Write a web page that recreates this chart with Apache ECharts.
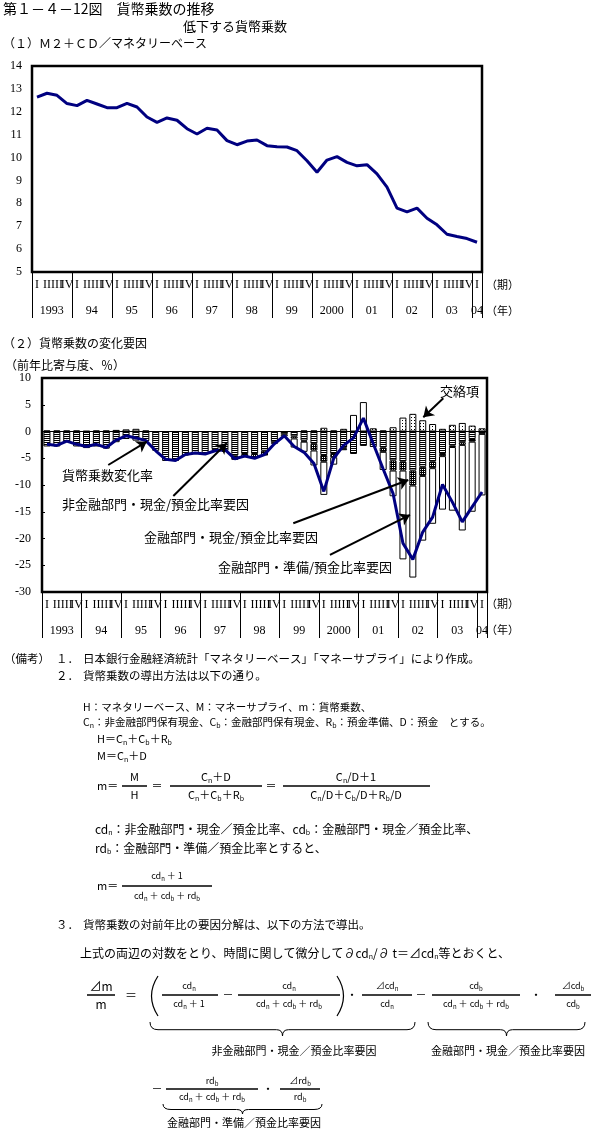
<!DOCTYPE html>
<html><head><meta charset="utf-8">
<script src="https://cdn.jsdelivr.net/npm/echarts@6/dist/echarts.min.js"></script>
<style>html,body{margin:0;padding:0;background:#fff}#c{width:603px;height:1141px}</style>
</head><body><div id="c"></div>
<script>
// ---------- data ----------
const years = ['1993','94','95','96','97','98','99','2000','01','02','03','04'];
const quarterNames = ['I','II','III','IV'];
// (1) M2+CD / monetary base
const m2cdMultiplier = [12.64,12.81,12.72,12.36,12.27,12.50,12.34,12.18,12.18,12.37,
  12.21,11.77,11.54,11.73,11.63,11.26,11.03,11.28,11.20,10.74,
  10.56,10.72,10.77,10.52,10.47,10.46,10.30,9.86,9.36,9.89,
  10.04,9.79,9.64,9.69,9.29,8.71,7.79,7.63,7.79,7.35,
  7.06,6.65,6.55,6.46,6.30];
// (2) factors (y/y contribution, %)
const multiplierChange = [-2.4,-2.6,-1.8,-2.4,-2.8,-2.4,-3.0,-1.6,-0.8,-1.2,
  -1.7,-3.6,-5.2,-5.4,-4.3,-4.0,-4.2,-3.6,-3.4,-5.1,
  -4.6,-5.0,-4.3,-2.3,-0.8,-2.8,-3.9,-6.0,-11.2,-5.0,
  -2.6,-1.2,2.5,-2.3,-7.0,-11.6,-20.9,-23.9,-18.8,-16.0,
  -9.9,-13.2,-16.9,-14.1,-11.3];
const nonFinCashFactor = [-2.8,-2.8,-2.0,-2.8,-3.1,-2.8,-3.2,-2.0,-1.4,-1.7,
  -1.8,-3.6,-5.5,-5.5,-4.5,-4.1,-4.2,-3.3,-3.6,-4.5,
  -4.2,-4.2,-3.6,-2.0,-0.5,-0.9,-1.7,-2.3,-4.4,-4.2,
  -3.0,-4.2,-2.7,-2.9,-3.0,-5.4,-5.6,-7.3,-6.6,-5.6,
  -4.2,-2.6,-2.0,-1.4,-0.45];
const finCashFactor = [0,0,0,0,0,0,0,0,0,0,
  0,0,0,0,0,0,0,-0.3,-0.2,-0.8,
  -0.5,-0.75,-0.9,-0.3,0,-0.4,-0.2,-1.25,-1.25,-0.6,
  -0.2,0,0,0,-0.8,-1.9,-1.7,-2.8,-1.7,-1.25,
  -0.4,-0.3,-0.5,-0.5,0];
const finReserveFactor = [0.2,0.2,0.2,0.2,0.1,0.2,0.2,0.3,0.4,0.5,
  0.2,0,0,0,0,0,0,0,0,0,
  0,0,0,0,-0.4,-1.7,-1.9,-2.8,-6.2,-1.4,
  -0.3,3.1,5.5,0,-3.4,-4.8,-16.6,-17.2,-12.1,-10.4,
  -10.0,-11.9,-16.0,-13.1,-11.5];
const crossTerm = [0,0,0,0,0,0,0,0,0,0,
  0,0,0,0,0,0,0,0,0,0,
  0,0,0,0,0,0,0.2,0.2,0.7,0.2,
  0.5,0,0,0.6,0.2,0.8,2.6,3.3,2.1,1.4,
  0.5,1.25,1.6,1.1,0.6];
// annotation arrows (x in quarter units from start, y in %)
const arrowFrom = [[6.70,-6.26],[13.28,-12.06],[25.41,-17.16],[29.12,-23.08],[40.58,6.2]];
const arrowTo   = [[10.59,-1.9],[18.68,-2.2],[37.04,-9.07],[37.21,-15.6],[38.56,2.65]];

// ---------- build ----------
const categories = [];
years.forEach((y, k) => { for (let q = 0; q < 4; q++) { if (k === years.length - 1 && q > 0) break; categories.push(y + '-' + q); } });
const nz = a => a.map(v => v === 0 ? null : v);

function pattern(w, h, px) {
  const c = document.createElement('canvas'); c.width = w; c.height = h;
  const g = c.getContext('2d'); g.fillStyle = '#fff'; g.fillRect(0, 0, w, h);
  g.fillStyle = '#000'; px.forEach(p => g.fillRect(p[0], p[1], p[2] || 1, p[3] || 1));
  return { image: c, repeat: 'repeat' };
}
const patStripe = pattern(4, 2, [[0, 0, 4, 1]]);
const patDense = pattern(2, 2, [[0, 0], [1, 1], [1, 0]]);
const patLight = pattern(3, 3, [[0, 0]]);

const FF = '"Noto Sans CJK JP","Noto Sans CJK SC",sans-serif';
const SERIF = '"Liberation Serif","DejaVu Serif",serif';
function txt(x, y, text, size, align) {
  const sub = Math.max(6, Math.round(size * 0.62));
  return { type: 'text', silent: true, z: 100,
    style: { x, y, text, fontSize: size, fontFamily: FF, fill: '#000',
      align: align || 'left', verticalAlign: 'middle', textAlign: align || 'left', textVerticalAlign: 'middle',
      rich: { s: { fontSize: sub, fontFamily: FF, fill: '#000', padding: [Math.round(size * 0.6), 0, 0, 0] } } } };
}
function ln(x1, y1, x2, y2, w) { return { type: 'line', silent: true, z: 100, shape: { x1, y1, x2, y2 }, style: { stroke: '#000', lineWidth: w || 1 } }; }
function bz(x1, y1, cx, cy, x2, y2, w) { return { type: 'bezierCurve', silent: true, z: 100, shape: { x1, y1, cpx1: cx, cpy1: cy, x2, y2 }, style: { stroke: '#000', fill: 'none', lineWidth: w || 1 } }; }
function frac(cx, y, num, den, x1, x2, size, gap) {
  gap = gap || 9;
  return [ln(x1, y, x2, y, 1.5), txt(cx, y - gap, num, size, 'center'), txt(cx, y + gap, den, size, 'center')];
}
function brace(xa, xb, y0, h) {
  const xc = (xa + xb) / 2, ym = y0 + h * 0.55, yb = y0 + h;
  return [bz(xa, y0, xa, ym, xa + 8, ym), ln(xa + 8, ym, xc - 6, ym), bz(xc - 6, ym, xc, ym, xc, yb),
          bz(xc, yb, xc, ym, xc + 6, ym), ln(xc + 6, ym, xb - 8, ym), bz(xb - 8, ym, xb, ym, xb, y0)];
}

const g = [];
g.push(txt(3, 9, '第１－４－12図　貨幣乗数の推移', 14));
g.push(txt(183, 26, '低下する貨幣乗数', 13));
g.push(txt(3, 43, '（１）Ｍ２＋ＣＤ／マネタリーベース', 12));
g.push(txt(486, 285, '（期）', 11), txt(486, 311, '（年）', 11));
g.push(txt(3, 343, '（２）貨幣乗数の変化要因', 12));
g.push(txt(5, 365, '（前年比寄与度、％）', 12));
g.push(txt(486, 604, '（期）', 11), txt(486, 630, '（年）', 11));
// annotations in chart (2)
g.push(txt(62, 475, '貨幣乗数変化率', 13));
g.push(txt(62, 504, '非金融部門・現金/預金比率要因', 13));
g.push(txt(144, 537, '金融部門・現金/預金比率要因', 13));
g.push(txt(218, 567, '金融部門・準備/預金比率要因', 13));
g.push(txt(440, 391, '交絡項', 13));
// notes
g.push(txt(4, 659, '（備考）', 11.5), txt(56, 659, '１．', 11.5),
  txt(83, 659, '日本銀行金融経済統計「マネタリーベース」「マネーサプライ」により作成。', 11.5));
g.push(txt(56, 676, '２．', 11.5), txt(83, 676, '貨幣乗数の導出方法は以下の通り。', 11.5));
g.push(txt(83, 707, 'H：マネタリーベース、M：マネーサプライ、m：貨幣乗数、', 10.5));
g.push(txt(83, 722, 'C{s|n}：非金融部門保有現金、C{s|b}：金融部門保有現金、R{s|b}：預金準備、D：預金　とする。', 10.5));
g.push(txt(97, 739, 'H＝C{s|n}＋C{s|b}＋R{s|b}', 11));
g.push(txt(97, 756, 'M＝C{s|n}＋D', 11));
g.push(txt(97, 786, 'm＝', 11));
g.push(...frac(134.5, 786, 'M', 'H', 122, 147, 11));
g.push(txt(157, 786, '＝', 11, 'center'));
g.push(...frac(216, 786, 'C{s|n}＋D', 'C{s|n}＋C{s|b}＋R{s|b}', 170, 262, 11));
g.push(txt(271, 786, '＝', 11, 'center'));
g.push(...frac(356, 786, 'C{s|n}/D＋1', 'C{s|n}/D＋C{s|b}/D＋R{s|b}/D', 283, 430, 11));
g.push(txt(95, 829, 'cd{s|n}：非金融部門・現金／預金比率、cd{s|b}：金融部門・現金／預金比率、', 12));
g.push(txt(95, 848, 'rd{s|b}：金融部門・準備／預金比率とすると、', 12));
g.push(txt(97, 886, 'm＝', 11));
g.push(...frac(167, 886, 'cd{s|n} ＋ 1', 'cd{s|n} ＋ cd{s|b} ＋ rd{s|b}', 122, 212, 9, 10));
g.push(txt(56, 925, '３．', 11.5), txt(83, 925, '貨幣乗数の対前年比の要因分解は、以下の方法で導出。', 11.5));
g.push(txt(80, 953, '上式の両辺の対数をとり、時間に関して微分して∂cd{s|n}/∂ t＝⊿cd{s|n}等とおくと、', 12));
// big formula
g.push(...frac(101, 995, '⊿m', 'm', 87, 115, 12, 9));
g.push(txt(131, 995, '＝', 12, 'center'));
g.push(bz(158, 976, 145, 996, 158, 1016, 1.2), bz(337, 976, 350, 996, 337, 1016, 1.2));
g.push(...frac(189, 995, 'cd{s|n}', 'cd{s|n} ＋ 1', 162, 218, 9, 9));
g.push(txt(228, 995, '－', 11, 'center'));
g.push(...frac(289, 995, 'cd{s|n}', 'cd{s|n} ＋ cd{s|b} ＋ rd{s|b}', 238, 340, 9, 9));
g.push(txt(352, 995, '・', 11, 'center'));
g.push(...frac(387, 995, '⊿cd{s|n}', 'cd{s|n}', 362, 412, 9, 9));
g.push(txt(421, 995, '－', 11, 'center'));
g.push(...frac(476, 995, 'cd{s|b}', 'cd{s|n} ＋ cd{s|b} ＋ rd{s|b}', 432, 520, 9, 9));
g.push(txt(536, 995, '・', 11, 'center'));
g.push(...frac(573, 995, '⊿cd{s|b}', 'cd{s|b}', 555, 591, 9, 9));
g.push(...brace(150, 415, 1022, 14), ...brace(428, 585, 1022, 14));
g.push(txt(294, 1051, '非金融部門・現金／預金比率要因', 11, 'center'));
g.push(txt(508, 1051, '金融部門・現金／預金比率要因', 11, 'center'));
g.push(txt(157, 1089, '－', 11, 'center'));
g.push(...frac(212, 1089, 'rd{s|b}', 'cd{s|n} ＋ cd{s|b} ＋ rd{s|b}', 166, 258, 9, 8));
g.push(txt(268, 1089, '・', 11, 'center'));
g.push(...frac(300, 1089, '⊿rd{s|b}', 'rd{s|b}', 280, 320, 9, 8));
g.push(...brace(163, 322, 1104, 10));
g.push(txt(244, 1123, '金融部門・準備／預金比率要因', 11, 'center'));

// axes helpers
function quarterAxis(gi) {
  return { type: 'category', gridIndex: gi, data: categories, boundaryGap: true, position: 'bottom',
    axisLine: { show: false }, axisTick: { show: false }, splitLine: { show: false },
    axisLabel: { interval: 0, margin: 7, fontSize: 12, fontFamily: SERIF, color: '#000',
      formatter: (v, i) => quarterNames[i % 4] } };
}
function yearAxis(gi) {
  return { type: 'value', gridIndex: gi, min: 0, max: categories.length, interval: 4, position: 'bottom',
    axisLine: { show: false }, splitLine: { show: false },
    axisTick: { show: true, length: 46, lineStyle: { color: '#000', width: 1 } },
    axisLabel: { margin: 33, align: 'left', showMinLabel: true, showMaxLabel: true,
      formatter: v => { const k = v / 4; if (Number.isInteger(k) && k < years.length) return (k === years.length - 1 ? '{z|' : '{y|') + years[k] + '}'; return ''; },
      rich: { y: { width: 39.6, align: 'center', fontSize: 12, fontFamily: SERIF, color: '#000' },
              z: { width: 10, align: 'center', fontSize: 12, fontFamily: SERIF, color: '#000' } } } };
}
const barBase = { type: 'bar', xAxisIndex: 2, yAxisIndex: 1, stack: 'f', barWidth: 7, z: 2 };

const option = {
  animation: false,
  backgroundColor: '#fff',
  grid: [
    { left: 32, top: 66, width: 450, height: 206, show: true, borderColor: '#000', borderWidth: 2.5, backgroundColor: 'transparent' },
    { left: 42, top: 378, width: 445, height: 214, show: true, borderColor: '#000', borderWidth: 2.5, backgroundColor: 'transparent' }
  ],
  xAxis: [quarterAxis(0), yearAxis(0), quarterAxis(1), yearAxis(1)],
  yAxis: [
    { type: 'value', gridIndex: 0, min: 5, max: 14, interval: 1, axisLine: { show: false }, axisTick: { show: false }, splitLine: { show: false },
      axisLabel: { margin: 10, fontSize: 12, fontFamily: SERIF, color: '#000' } },
    { type: 'value', gridIndex: 1, min: -30, max: 10, interval: 5, axisLine: { show: false },
      axisTick: { show: true, inside: true, length: 3, lineStyle: { color: '#000' } }, splitLine: { show: false },
      axisLabel: { margin: 11, fontSize: 12, fontFamily: SERIF, color: '#000' } }
  ],
  series: [
    { name: 'M2+CD/マネタリーベース', type: 'line', xAxisIndex: 0, yAxisIndex: 0, data: m2cdMultiplier, symbol: 'none',
      lineStyle: { color: '#000080', width: 3 }, z: 3 },
    Object.assign({}, barBase, { name: '非金融部門・現金/預金比率要因', data: nz(nonFinCashFactor),
      itemStyle: { color: patStripe, borderColor: '#000', borderWidth: 1 },
      markLine: { silent: true, symbol: 'none', label: { show: false }, data: [{ yAxis: 0 }], lineStyle: { color: '#000', width: 1, type: 'solid' } } }),
    Object.assign({}, barBase, { name: '金融部門・現金/預金比率要因', data: nz(finCashFactor),
      itemStyle: { color: patDense, borderColor: '#000', borderWidth: 1 } }),
    Object.assign({}, barBase, { name: '金融部門・準備/預金比率要因', data: nz(finReserveFactor),
      itemStyle: { color: '#fff', borderColor: '#000', borderWidth: 1 } }),
    Object.assign({}, barBase, { name: '交絡項', data: nz(crossTerm),
      itemStyle: { color: patLight, borderColor: '#000', borderWidth: 1 } }),
    { name: '貨幣乗数変化率', type: 'line', xAxisIndex: 2, yAxisIndex: 1, data: multiplierChange, symbol: 'none',
      lineStyle: { color: '#000080', width: 3 }, z: 5 },
    { name: 'arrows', type: 'lines', coordinateSystem: 'cartesian2d', xAxisIndex: 3, yAxisIndex: 1, z: 6,
      symbol: ['none', 'arrow'], symbolSize: 10,
      lineStyle: { color: '#000', width: 2, opacity: 1 },
      data: arrowFrom.map((f, i) => ({ coords: [f, arrowTo[i]] })) }
  ],
  graphic: { elements: g }
};
const chart = echarts.init(document.getElementById('c'), null, { renderer: 'canvas' });
chart.setOption(option);
</script></body></html>
